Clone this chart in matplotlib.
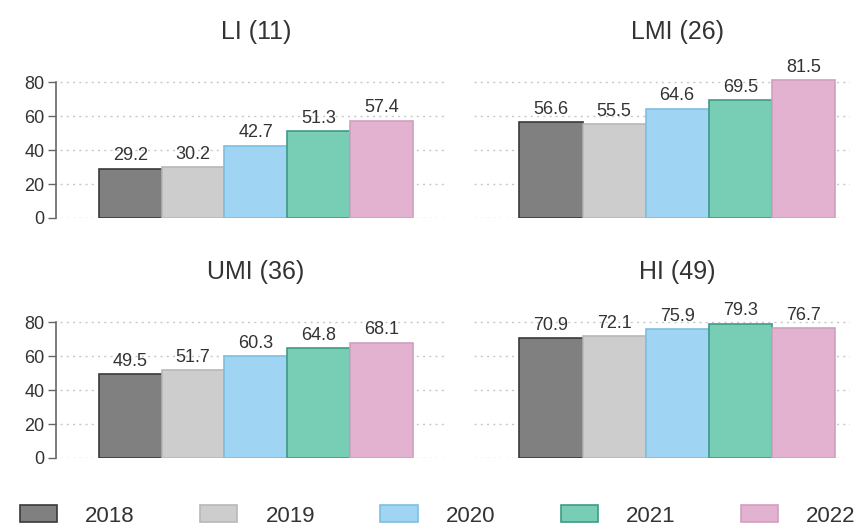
import matplotlib
matplotlib.use("Agg")
import matplotlib.pyplot as plt
from matplotlib.patches import Patch

plt.rcParams["font.family"] = ["Liberation Sans", "DejaVu Sans"]

# Income groups (number of countries) and yearly scores
groups = ["LI (11)", "LMI (26)", "UMI (36)", "HI (49)"]
years = ["2018", "2019", "2020", "2021", "2022"]
li = [29.2, 30.2, 42.7, 51.3, 57.4]
lmi = [56.6, 55.5, 64.6, 69.5, 81.5]
umi = [49.5, 51.7, 60.3, 64.8, 68.1]
hi = [70.9, 72.1, 75.9, 79.3, 76.7]
yticks = [0, 20, 40, 60, 80]

fills = ["#808080", "#cdcdcd", "#9fd4f2", "#78cdb5", "#e3b2d0"]
edges = ["#3a3a3a", "#b8b8b8", "#7fbfe0", "#3f9a86", "#cfa0bd"]
text_col = "#333333"

W, H = 856, 530
fig = plt.figure(figsize=(W / 100, H / 100), dpi=100)

px_per_unit = 135.6 / 80.0
ytop = 88.0
ax_h = ytop * px_per_unit


def make_axes(left_px, right_px, zero_px):
    bottom = (H - zero_px) / H
    return fig.add_axes([left_px / W, bottom, (right_px - left_px) / W, ax_h / H])


panels = [
    (make_axes(60, 448, 218), li, groups[0], (-1.12, 5.06), True),
    (make_axes(474, 850, 218), lmi, groups[1], (-1.22, 4.74), False),
    (make_axes(60, 448, 458), umi, groups[2], (-1.12, 5.06), True),
    (make_axes(474, 850, 458), hi, groups[3], (-1.22, 4.74), False),
]

for ax, vals, title, xl, show_y in panels:
    xs = list(range(len(vals)))
    ax.bar(xs, vals, width=1.0, color=fills, edgecolor=edges, linewidth=1.2, zorder=3)
    for x, v in zip(xs, vals):
        ax.text(x, v + 2.5, f"{v:.1f}", ha="center", va="bottom",
                fontsize=13, color=text_col, zorder=4)
    ax.set_xlim(*xl)
    ax.set_ylim(0, ytop)
    ax.set_yticks(yticks)
    ax.grid(axis="y", linestyle=(0, (1.5, 3)), color="#c8c8c8", linewidth=1.0, zorder=0)
    ax.set_xticks([])
    for s in ["top", "right", "bottom"]:
        ax.spines[s].set_visible(False)
    if show_y:
        ax.spines["left"].set_bounds(0, 80)
        ax.spines["left"].set_color("#666666")
        ax.spines["left"].set_linewidth(1.2)
        ax.spines["left"].set_position(("outward", 3))
        ax.tick_params(axis="y", length=6, width=1.0, color="#666666",
                       labelsize=13, labelcolor=text_col, pad=2)
    else:
        ax.spines["left"].set_visible(False)
        ax.tick_params(axis="y", length=0, labelleft=False)
    ax.text(2, 110, title, ha="center", va="center", fontsize=18,
            color=text_col, clip_on=False)

handles = [Patch(facecolor=f, edgecolor=e, linewidth=1.2) for f, e in zip(fills, edges)]
fig.legend(handles, years, loc="center left", bbox_to_anchor=(20 / W, (H - 516) / H),
           ncol=5, frameon=False, fontsize=16, handlelength=1.67, handleheight=0.77,
           handletextpad=1.26, columnspacing=2.95, borderpad=0, borderaxespad=0,
           labelcolor=text_col)

fig.savefig("out.png", dpi=100)
